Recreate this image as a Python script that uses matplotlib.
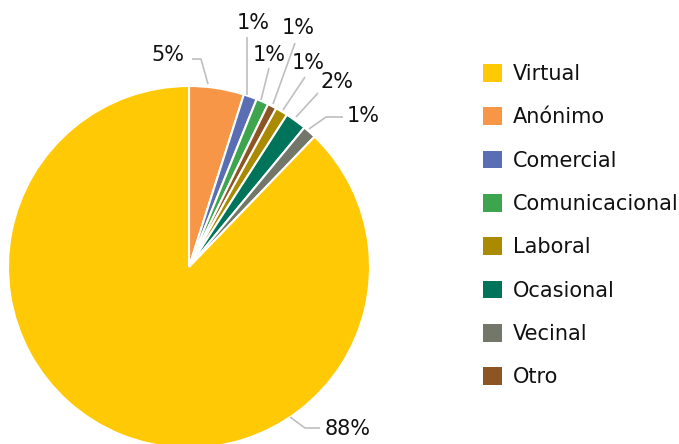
import matplotlib
matplotlib.use("Agg")
import matplotlib.pyplot as plt
from matplotlib.patches import Patch

# datos (orden del pastel, en sentido horario desde arriba)
categorias = ["Anónimo", "Comercial", "Comunicacional", "Otro",
              "Laboral", "Ocasional", "Vecinal", "Virtual"]
porcentajes = [4.9, 1.2, 1.1, 0.8, 1.1, 1.9, 1.2, 87.8]
colores = ["#F79646", "#5A6EB4", "#3EA54F", "#8E5524",
           "#A98A00", "#00745A", "#72776A", "#FFC905"]

# orden de la leyenda
orden_leyenda = ["Virtual", "Anónimo", "Comercial", "Comunicacional",
                 "Laboral", "Ocasional", "Vecinal", "Otro"]

W, H = 679, 444

# posiciones de etiquetas (pixeles, y hacia abajo): centro del texto y linea guia
pos_texto = [(168, 55), (253, 23), (269, 55), (298, 28),
             (308, 63), (337, 82), (363, 116), (348, 429)]
lineas = [
    [(208, 84), (201, 59), (192, 59)],
    [(247, 95), (247, 37)],
    [(261, 100), (269, 68)],
    [(273, 104), (295, 43)],
    [(283, 110), (305, 77)],
    [(296, 117), (318, 93)],
    [(309, 129), (326, 117), (343, 117)],
    [(290, 417), (305, 428), (320, 428)],
]

fig = plt.figure(figsize=(W / 100, H / 100), dpi=100)
ax = fig.add_axes([0, 0, 1, 1])

wedges, _ = ax.pie(porcentajes, colors=colores, startangle=90, counterclock=False,
                   center=(189, H - 267), radius=181,
                   wedgeprops=dict(edgecolor="white", linewidth=1.5))
ax.set_xlim(0, W)
ax.set_ylim(0, H)
ax.set_aspect("auto")
ax.axis("off")

for v, (tx, ty), pts in zip(porcentajes, pos_texto, lineas):
    xs = [p[0] for p in pts]
    ys = [H - p[1] for p in pts]
    ax.plot(xs, ys, color="#BFBFBF", lw=1.2, solid_capstyle="butt")
    ax.text(tx, H - ty, f"{v:.0f}%", ha="center", va="center",
            fontsize=15, color="#111111")

handles = [Patch(facecolor=colores[categorias.index(c)], edgecolor="none")
           for c in orden_leyenda]
ax.legend(handles, orden_leyenda, loc="upper left",
          bbox_to_anchor=(483 / W, (H - 64) / H), bbox_transform=fig.transFigure,
          frameon=False, borderaxespad=0, borderpad=0,
          handlelength=0.92, handleheight=0.92, handletextpad=0.5,
          labelspacing=1.12, fontsize=15, labelcolor="#111111")

fig.savefig("out.png", dpi=100)
